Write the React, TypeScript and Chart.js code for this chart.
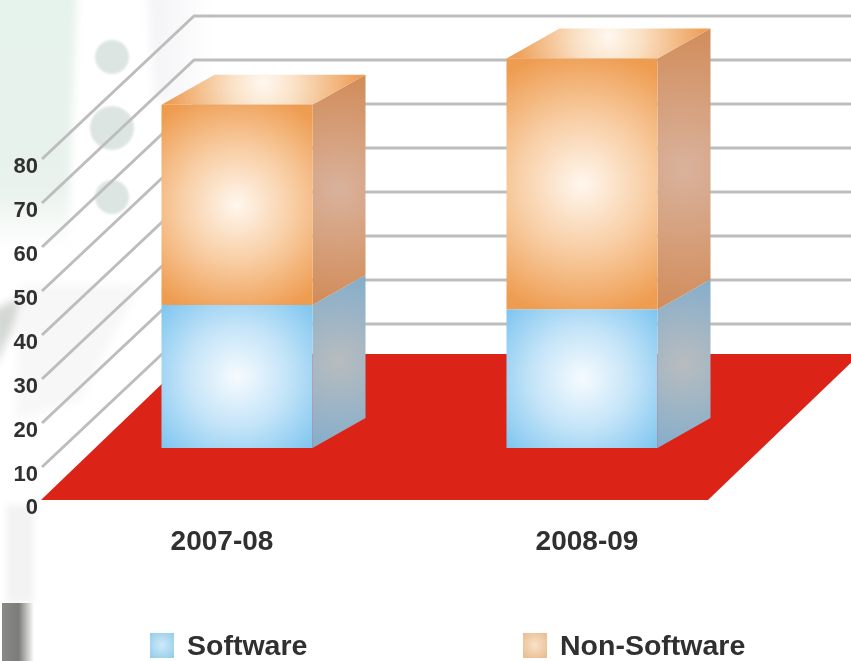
import React, { useEffect, useRef } from "react";
import { Chart, LinearScale, registerables } from "chart.js";

const categories = ["2007-08", "2008-09"];
const softwareValues = [35, 34];
const nonSoftwareValues = [45.5, 57];
const tickValues = [0, 10, 20, 30, 40, 50, 60, 70, 80];
const seriesNames = ["Software", "Non-Software"];

// The picture's axis is slightly compressed between 0 and 10.
class WarpedScale extends LinearScale {
  static id = "warped";
  getPixelForValue(v: number) {
    const u = v < 10 ? v * 0.75 : v - 2.5;
    return super.getPixelForValue(u);
  }
}
Chart.register(...registerables, WarpedScale);

const FONT = '"Liberation Sans", Arial, sans-serif';
const TEXT = "#303030";
const BAR_DX = 53;
const BAR_DY = -30;
const FLOOR_FRONT = 52; // floor's front edge lies this far below the bars' base
const FLOOR_BACK = -94;
const GRID_FRONT_X = 42;
const GRID_BACK_X = 194;
const GRID_DY = -143;
const LABEL_SHIFT = [-15, 5];

const PALETTE = [
  { front: ["#f6fbfe", "#c4e4f8", "#80c6f0"], side: ["#b8bcbe", "#86aecb"], rad: 0.98 },
  { front: ["#fff7ee", "#f8cda3", "#ee9c50"], side: ["#d9b29c", "#d18a56"], rad: 0.92 },
];

function radial(ctx: CanvasRenderingContext2D, x: number, y: number, r: number, stops: string[]) {
  const g = ctx.createRadialGradient(x, y, 0, x, y, r);
  stops.forEach((c, i) => g.addColorStop(i / (stops.length - 1), c));
  return g;
}

function frontFill(c: any, ds: number) {
  const chart = c.chart;
  const { x, y } = chart.scales;
  if (!x || !y || !chart.chartArea) return PALETTE[ds].front[2];
  const i = c.dataIndex;
  const lo = ds === 0 ? 0 : softwareValues[i];
  const hi = ds === 0 ? softwareValues[i] : softwareValues[i] + nonSoftwareValues[i];
  const y0 = y.getPixelForValue(lo);
  const y1 = y.getPixelForValue(hi);
  const cx = x.getPixelForValue(i);
  const h = Math.abs(y0 - y1);
  return radial(chart.ctx, cx, (y0 + y1) / 2, Math.hypot(75, h / 2) * PALETTE[ds].rad, PALETTE[ds].front);
}

const scene = {
  id: "scene",
  beforeDraw(chart: any) {
    const ctx: CanvasRenderingContext2D = chart.ctx;
    const w = chart.width;
    ctx.save();
    ctx.fillStyle = "#ffffff";
    ctx.fillRect(0, 0, w, chart.height);

    // page decoration behind the chart
    ctx.filter = "blur(4px)";
    const green = ctx.createLinearGradient(0, 0, 0, 250);
    green.addColorStop(0, "#e6f2ec");
    green.addColorStop(0.75, "#e9f2ed");
    green.addColorStop(1, "#ffffff");
    ctx.fillStyle = green;
    ctx.beginPath();
    ctx.moveTo(-10, -10); ctx.lineTo(77, -10); ctx.lineTo(68, 250); ctx.lineTo(-10, 250);
    ctx.closePath(); ctx.fill();

    const haze = ctx.createLinearGradient(148, 0, 215, 0);
    haze.addColorStop(0, "#f3f3f6");
    haze.addColorStop(1, "#ffffff");
    ctx.fillStyle = haze;
    ctx.beginPath();
    ctx.moveTo(147, -10); ctx.lineTo(260, -10); ctx.lineTo(240, 100); ctx.lineTo(155, 100);
    ctx.closePath(); ctx.fill();

    ctx.fillStyle = "#f7f7f7";
    ctx.beginPath();
    ctx.moveTo(20, 285); ctx.lineTo(140, 285); ctx.lineTo(80, 400); ctx.lineTo(15, 420);
    ctx.closePath(); ctx.fill();
    ctx.fillStyle = "#d3d8d4";
    ctx.beginPath();
    ctx.moveTo(-6, 310); ctx.lineTo(22, 296); ctx.lineTo(14, 325); ctx.lineTo(-6, 368);
    ctx.closePath(); ctx.fill();

    ctx.filter = "blur(1px)";
    ctx.fillStyle = "#dde5e2";
    [[112, 57, 17], [112, 128, 22], [112, 197, 17]].forEach(([cx, cy, r]) => {
      ctx.beginPath(); ctx.arc(cx, cy, r, 0, Math.PI * 2); ctx.fill();
    });

    ctx.filter = "blur(3px)";
    ctx.fillStyle = "#f3f3f3";
    ctx.fillRect(6, 505, 28, 98);
    ctx.filter = "none";
    const dark = ctx.createLinearGradient(0, 0, 34, 0);
    dark.addColorStop(0, "#8a8a86");
    dark.addColorStop(0.55, "#7c7c78");
    dark.addColorStop(1, "#ffffff");
    ctx.fillStyle = dark;
    ctx.fillRect(2, 603, 32, 58);

    // walls: one bent line per tick
    const ys = chart.scales.y;
    ctx.strokeStyle = "#bdbdbd";
    ctx.lineWidth = 3;
    ctx.lineJoin = "round";
    ys.ticks.forEach((t: any) => {
      if (t.value === 0) return;
      const py = ys.getPixelForValue(t.value) + FLOOR_FRONT;
      ctx.beginPath();
      ctx.moveTo(GRID_FRONT_X, py);
      ctx.lineTo(GRID_BACK_X, py + GRID_DY);
      ctx.lineTo(w + 4, py + GRID_DY);
      ctx.stroke();
    });

    // floor
    const zero = ys.getPixelForValue(0);
    ctx.fillStyle = "#dc2318";
    ctx.beginPath();
    ctx.moveTo(41, zero + FLOOR_FRONT);
    ctx.lineTo(708, zero + FLOOR_FRONT);
    ctx.lineTo(860, zero + FLOOR_BACK);
    ctx.lineTo(193, zero + FLOOR_BACK);
    ctx.closePath();
    ctx.fill();
    ctx.restore();
  },
  beforeDatasetsDraw(chart: any) {
    const ctx: CanvasRenderingContext2D = chart.ctx;
    ctx.save();
    chart.data.datasets.forEach((_: any, ds: number) => {
      const bars = chart.getDatasetMeta(ds).data;
      bars.forEach((b: any) => {
        const x1 = b.x + b.width / 2;
        const x0 = b.x - b.width / 2;
        const top = b.y;
        const bot = b.base;
        // side face
        ctx.fillStyle = radial(
          ctx,
          x1 + BAR_DX / 2,
          (top + bot) / 2 + BAR_DY / 2,
          Math.max(85, Math.abs(bot - top) * 0.6),
          PALETTE[ds].side
        );
        ctx.beginPath();
        ctx.moveTo(x1, bot);
        ctx.lineTo(x1 + BAR_DX, bot + BAR_DY);
        ctx.lineTo(x1 + BAR_DX, top + BAR_DY);
        ctx.lineTo(x1, top);
        ctx.closePath();
        ctx.fill();
        // top face of the uppermost segment
        if (ds === chart.data.datasets.length - 1) {
          const cx = b.x + BAR_DX * 0.5;
          const g = ctx.createRadialGradient(cx, top - 22, 0, cx, top - 22, 95);
          g.addColorStop(0, "#fff8f0");
          g.addColorStop(0.35, "#fae0c4");
          g.addColorStop(1, "#ee9f58");
          ctx.fillStyle = g;
          ctx.beginPath();
          ctx.moveTo(x0, top);
          ctx.lineTo(x0 + BAR_DX, top + BAR_DY);
          ctx.lineTo(x1 + BAR_DX, top + BAR_DY);
          ctx.lineTo(x1, top);
          ctx.closePath();
          ctx.fill();
        }
      });
    });
    ctx.restore();
  },
  afterDraw(chart: any) {
    const ctx: CanvasRenderingContext2D = chart.ctx;
    const { x: xs, y: ys } = chart.scales;
    ctx.save();
    ctx.fillStyle = TEXT;
    ctx.textBaseline = "middle";

    // value labels at the walls' front edge
    ctx.font = `bold 22px ${FONT}`;
    ctx.textAlign = "right";
    ys.ticks.forEach((t: any) => {
      ctx.fillText(String(t.value), 38, ys.getPixelForValue(t.value) + FLOOR_FRONT + 8);
    });

    // category labels
    ctx.font = `bold 28px ${FONT}`;
    ctx.textAlign = "center";
    chart.data.labels.forEach((l: string, i: number) => {
      ctx.fillText(l, xs.getPixelForValue(i) + LABEL_SHIFT[i], 542);
    });

    // legend
    const legendX = [150, 523];
    const swatch = [
      ["#cfeafa", "#93cbe8"],
      ["#f9e2c8", "#e8ba8e"],
    ];
    ctx.textAlign = "left";
    ctx.font = `bold 28.5px ${FONT}`;
    chart.data.datasets.forEach((d: any, i: number) => {
      ctx.fillStyle = radial(ctx, legendX[i] + 12, 645, 17, swatch[i]);
      ctx.fillRect(legendX[i], 633, 24, 25);
      ctx.fillStyle = TEXT;
      ctx.fillText(d.label, legendX[i] + 37, 647);
    });
    ctx.restore();
  },
};

export default function App() {
  const ref = useRef<HTMLCanvasElement>(null);
  useEffect(() => {
    document.body.style.margin = "0";
    const chart = new Chart(ref.current!, {
      type: "bar",
      data: {
        labels: categories,
        datasets: [
          { label: seriesNames[0], data: softwareValues, backgroundColor: (c: any) => frontFill(c, 0) },
          { label: seriesNames[1], data: nonSoftwareValues, backgroundColor: (c: any) => frontFill(c, 1) },
        ],
      },
      options: {
        responsive: false,
        animation: false,
        events: [],
        layout: { padding: { left: 64.5, right: 96.5, top: 8, bottom: 213 } },
        datasets: { bar: { barPercentage: 151 / 345, categoryPercentage: 1, borderWidth: 0 } },
        plugins: { legend: { display: false }, tooltip: { enabled: false }, title: { display: false } },
        scales: {
          x: {
            display: false,
            stacked: true,
          },
          y: {
            display: false,
            type: "warped",
            stacked: true,
            min: 0,
            max: 100,
            afterBuildTicks: (s: any) => {
              s.ticks = tickValues.map((value) => ({ value }));
            },
          },
        },
      } as any,
      plugins: [scene],
    });
    return () => chart.destroy();
  }, []);
  return (
    <canvas
      ref={ref}
      width={851}
      height={661}
      style={{ display: "block", filter: "blur(0.6px)" }}
    />
  );
}
